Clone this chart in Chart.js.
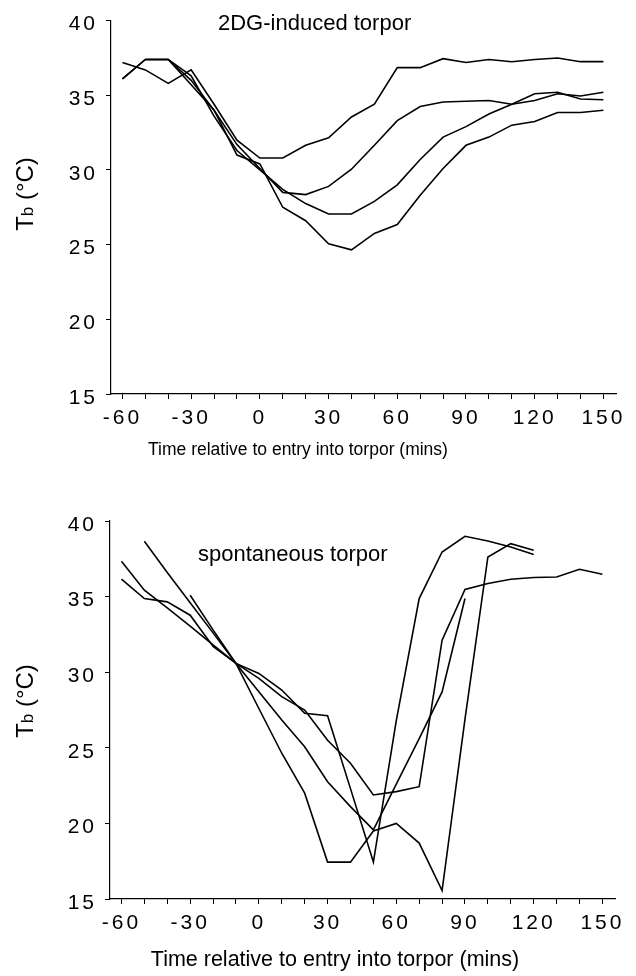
<!DOCTYPE html>
<html><head><meta charset="utf-8">
<script src="https://cdn.jsdelivr.net/npm/chart.js@4/dist/chart.umd.min.js"></script>
<style>
html,body{margin:0;padding:0;background:#fff;}
#wrap{width:636px;height:976px;position:relative;overflow:hidden;}
.c{position:absolute;left:0;width:636px;height:488px;}
</style></head><body>
<div id="wrap">
<div class="c" style="top:0"><canvas id="c1" width="636" height="488"></canvas></div>
<div class="c" style="top:488px"><canvas id="c2" width="636" height="488"></canvas></div>
</div>
<script>
// ---- data ----
const minutes = [-60,-50,-40,-30,-20,-10,0,10,20,30,40,50,60,70,80,90,100,110,120,130,140,150];
const yTickValues = [15,20,25,30,35,40];
const xLabelEvery = 30;

// 2DG-induced torpor (Tb, °C)
const dg1 = [37.2,36.7,35.8,36.7,34.4,32.0,30.8,30.8,31.65,32.15,33.55,34.4,36.85,36.85,37.45,37.2,37.4,37.25,37.4,37.5,37.25,37.25];
const dg2 = [36.1,37.4,37.4,36.0,34.0,31.7,30.1,28.5,28.35,28.9,30.05,31.65,33.3,34.25,34.55,34.6,34.65,34.4,34.65,35.1,34.95,35.2];
const dg3 = [36.1,37.4,37.4,36.3,33.6,31.3,30.0,28.7,27.75,27.05,27.05,27.9,29.0,30.7,32.2,32.9,33.75,34.4,35.1,35.2,34.75,34.7];
const dg4 = [null,37.4,37.4,35.7,34.0,31.0,30.4,27.5,26.6,25.05,24.65,25.75,26.35,28.3,30.1,31.65,32.2,33.0,33.25,33.85,33.85,34.0];

// spontaneous torpor (Tb, °C)
const sp1 = [37.34,35.42,34.25,33.05,31.8,30.58,29.92,28.82,27.28,27.12,22.3,17.44,26.8,34.87,37.95,38.99,38.68,38.28,37.78,null,null,null];
const sp2 = [36.15,34.87,34.65,33.77,31.7,30.58,29.59,28.38,27.5,25.5,23.98,21.88,22.1,22.43,32.12,35.47,35.87,36.15,36.26,36.3,36.81,36.48];
const sp3 = [null,38.66,36.6,34.6,32.6,30.58,27.6,24.64,22.0,17.44,17.44,19.5,20.0,18.7,15.56,26.9,37.62,38.5,38.06,null,null,null];
const sp4 = [null,null,null,35.09,32.8,30.58,28.7,26.84,25.07,22.76,21.11,19.57,22.6,25.6,28.7,34.87,null,null,null,null,null,null];

const xTitle = 'Time relative to entry into torpor (mins)';
const topNote = '2DG-induced torpor';
const bottomNote = 'spontaneous torpor';

// ---- helpers ----
const FONT = '"Liberation Sans", Arial, Helvetica, sans-serif';
function pts(arr){ return minutes.map((t,i)=>({x:t,y:arr[i]})).filter(p=>p.y!==null); }
function ds(arr){ return {data:pts(arr), borderColor:'#000', borderWidth:1.6, pointRadius:0, tension:0, fill:false}; }

function drawTb(ctx, cx, cy){
  ctx.save();
  ctx.translate(cx, cy); ctx.rotate(-Math.PI/2);
  ctx.letterSpacing = '0px';
  const big = '24px ' + FONT, small = '17px ' + FONT;
  ctx.font = big; const wT = ctx.measureText('T').width; const wR = ctx.measureText(' (°C)').width;
  ctx.font = small; const wb = ctx.measureText('b').width;
  let x = -(wT + wb + wR)/2;
  ctx.fillStyle = '#000'; ctx.textBaseline = 'alphabetic'; ctx.textAlign = 'left';
  ctx.font = big; ctx.fillText('T', x, 8.5); x += wT;
  ctx.font = small; ctx.fillText('b', x, 8.5); x += wb;
  ctx.font = big; ctx.fillText(' (°C)', x, 8.5);
  ctx.restore();
}

function makeChart(id, series, cfg){
  const textPlugin = {
    id:'texts',
    beforeLayout(chart){ chart.ctx.letterSpacing = '3px'; },
    beforeDraw(chart){ chart.ctx.letterSpacing = '3px'; },
    afterDraw(chart){
      const ctx = chart.ctx;
      ctx.save();
      ctx.letterSpacing = '0px';
      ctx.fillStyle = '#000';
      ctx.font = '22px ' + FONT;
      ctx.textAlign = 'left'; ctx.textBaseline = 'middle';
      ctx.fillText(cfg.note, cfg.noteX, cfg.noteY);
      ctx.textAlign = 'center';
      ctx.font = cfg.titleSize + 'px ' + FONT;
      ctx.fillText(xTitle, cfg.titleX, cfg.titleY);
      ctx.restore();
      drawTb(ctx, cfg.tbX, cfg.tbY);
    }
  };
  return new Chart(document.getElementById(id), {
    type:'line',
    data:{ datasets: series.map(ds) },
    options:{
      responsive:false, animation:false,
      layout:{ padding:{ top:cfg.padTop, right:cfg.padRight, left:0, bottom:0 } },
      plugins:{ legend:{display:false}, tooltip:{enabled:false}, title:{display:false} },
      scales:{
        x:{
          type:'linear', min:-65, max:155.5,
          afterBuildTicks(scale){ scale.ticks = minutes.map(v=>({value:v})); },
          afterFit(scale){ scale.height = cfg.xHeight; },
          grid:{ drawOnChartArea:false, drawTicks:true, tickLength:5, color:'#000', lineWidth:1 },
          border:{ display:true, color:'#000', width:1.2 },
          ticks:{ autoSkip:false, maxRotation:0, padding:7, color:'#000', font:{family:FONT, size:21},
                  callback:(v)=> (v % xLabelEvery === 0 ? String(v) : '') }
        },
        y:{
          type:'linear', min:15, max:40,
          afterBuildTicks(scale){ scale.ticks = yTickValues.map(v=>({value:v})); },
          afterFit(scale){ scale.width = cfg.yWidth; },
          grid:{ drawOnChartArea:false, drawTicks:true, tickLength:5, color:'#000', lineWidth:1 },
          border:{ display:true, color:'#000', width:1.2 },
          ticks:{ padding:8, labelOffset:4, color:'#000', font:{family:FONT, size:21} }
        }
      }
    },
    plugins:[textPlugin]
  });
}

makeChart('c1', [dg1,dg2,dg3,dg4], {
  padTop:15, padRight:20, xHeight:94, yWidth:111,
  note: topNote, noteX:218, noteY:24,
  titleX:298, titleY:450, titleSize:17.5, tbX:24.5, tbY:194
});
makeChart('c2', [sp1,sp2,sp3,sp4], {
  padTop:33, padRight:21, xHeight:77, yWidth:110,
  note: bottomNote, noteX:198, noteY:67,
  titleX:335, titleY:472, titleSize:21.5, tbX:24.5, tbY:213
});
</script>
</body></html>
